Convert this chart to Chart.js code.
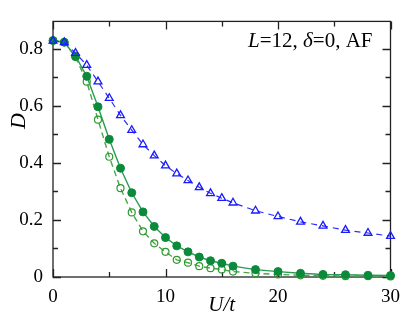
<!DOCTYPE html>
<html><head><meta charset="utf-8">
<script src="https://cdn.jsdelivr.net/npm/chart.js@4"></script>
<style>html,body{margin:0;padding:0;background:#fff}</style>
</head><body>
<canvas id="c" width="409" height="318"></canvas>
<script>
// ---- data ----
const uValues = [0,1,2,3,4,5,6,7,8,9,10,11,12,13,14,15,16,18,20,22,24,26,28,30];
const dAF_triangles = [0.827,0.822,0.784,0.742,0.684,0.626,0.566,0.514,0.464,0.425,0.390,0.362,0.338,0.314,0.293,0.276,0.260,0.232,0.212,0.193,0.179,0.164,0.154,0.143];
const dFilled = [0.828,0.822,0.773,0.703,0.596,0.482,0.381,0.295,0.228,0.177,0.138,0.109,0.088,0.070,0.057,0.048,0.038,0.026,0.019,0.013,0.009,0.008,0.006,0.005];
const dOpen = [0.828,0.822,0.770,0.684,0.551,0.421,0.311,0.226,0.160,0.118,0.088,0.060,0.050,0.038,0.031,0.026,0.019,0.013,0.009,0.006,0.004,0.003,0.003,0.002];
const xTickValues = [0,10,20,30];
const yTickValues = [0,0.2,0.4,0.6,0.8];
const xMinorStep = 5;
const yMinorStep = 0.1;

const pts = (xs, ys) => xs.map((x,i)=>({x, y: ys[i]}));
const SERIF = "Liberation Serif";
Chart.defaults.font.family = SERIF;
Chart.defaults.color = '#000';

const framePlugin = {
  id: 'framePlugin',
  beforeDatasetsDraw(chart){
    const {ctx, chartArea:a, scales:{x, y}} = chart;
    ctx.save();
    ctx.strokeStyle = '#222';
    ctx.lineWidth = 1.3;
    ctx.strokeRect(a.left, a.top, a.right-a.left, a.bottom-a.top);
    ctx.beginPath();
    for (let v = x.min; v <= x.max + 1e-9; v += xMinorStep){
      const px = Math.round(x.getPixelForValue(v)) + 0.5;
      const major = Math.abs(v % 10) < 1e-9;
      const L = major ? 8 : 5;
      ctx.moveTo(px, a.bottom); ctx.lineTo(px, a.bottom - L);
      ctx.moveTo(px, a.top); ctx.lineTo(px, a.top + L);
    }
    for (let k = 0; k*yMinorStep <= y.max + 1e-9; k++){
      const v = k*yMinorStep;
      const py = Math.round(y.getPixelForValue(v)) + 0.5;
      const L = (k % 2 === 0) ? 8 : 5;
      ctx.moveTo(a.left, py); ctx.lineTo(a.left + L, py);
      ctx.moveTo(a.right, py); ctx.lineTo(a.right - L, py);
    }
    ctx.stroke();
    ctx.restore();
  },
  afterDraw(chart){
    const {ctx} = chart;
    ctx.save();
    ctx.fillStyle = '#000';
    ctx.textBaseline = 'alphabetic';
    let xPos = 248;
    const baseY = 47;
    const parts = [['L', true], ['=12, ', false], ['\u03b4', true], ['=0, AF', false]];
    for (const [t, it] of parts){
      ctx.font = (it ? 'italic ' : '') + '21px "' + SERIF + '"';
      ctx.fillText(t, xPos, baseY);
      xPos += ctx.measureText(t).width;
    }
    // y-axis title
    ctx.translate(19, 121);
    ctx.rotate(-Math.PI/2);
    ctx.font = 'italic 22px "' + SERIF + '"';
    ctx.textAlign = 'center';
    ctx.textBaseline = 'middle';
    ctx.fillText('D', 0, 0);
    ctx.restore();
  }
};

new Chart(document.getElementById('c'), {
  type: 'line',
  data: {
    datasets: [
      {
        label: 'AF triangles',
        data: pts(uValues, dAF_triangles),
        borderColor: '#2a2aff',
        borderWidth: 1.2,
        borderDash: [6,5],
        pointStyle: 'triangle',
        pointRadius: 4.5,
        pointBorderWidth: 1.3,
        pointBorderColor: '#1a1aff',
        pointBackgroundColor: 'rgba(0,0,0,0)',
        clip: false,
        order: 0
      },
      {
        label: 'filled',
        data: pts(uValues, dFilled),
        borderColor: '#2a9a55',
        borderWidth: 1.4,
        pointStyle: 'circle',
        pointRadius: 4,
        pointBorderWidth: 1,
        pointBorderColor: '#0a8a3a',
        pointBackgroundColor: '#0a8a3a',
        clip: false,
        order: 1
      },
      {
        label: 'open',
        data: pts(uValues, dOpen),
        borderColor: '#45a845',
        borderWidth: 1.4,
        borderDash: [6,4],
        pointStyle: 'circle',
        pointRadius: 3.5,
        pointBorderWidth: 1.2,
        pointBorderColor: '#2e9a2e',
        pointBackgroundColor: 'rgba(0,0,0,0)',
        clip: false,
        order: 2
      }
    ]
  },
  options: {
    responsive: false,
    animation: false,
    devicePixelRatio: 1,
    layout: { padding: { top: 8, right: 16, left: 0, bottom: 0 } },
    plugins: { legend: { display: false }, tooltip: { enabled: false } },
    elements: { line: { tension: 0 } },
    scales: {
      x: {
        type: 'linear',
        min: 0, max: 30,
        grid: { display: false, drawTicks: false },
        border: { display: false },
        afterBuildTicks: s => { s.ticks = xTickValues.map(v => ({value: v})); },
        ticks: { padding: 9, color: '#000', font: { family: SERIF, size: 19 }, maxRotation: 0 },
        title: { display: true, text: 'U/t', color: '#000', padding: { top: 2, bottom: 0 }, font: { family: SERIF, size: 21, style: 'italic' } },
        afterFit: s => { s.height = 41; }
      },
      y: {
        type: 'linear',
        min: 0, max: 0.895,
        grid: { display: false, drawTicks: false },
        border: { display: false },
        afterBuildTicks: s => { s.ticks = yTickValues.map(v => ({value: v})); },
        ticks: { padding: 10, color: '#000', font: { family: SERIF, size: 19 } },
        afterFit: s => { s.width = 53; }
      }
    }
  },
  plugins: [framePlugin]
});
</script>
</body></html>
